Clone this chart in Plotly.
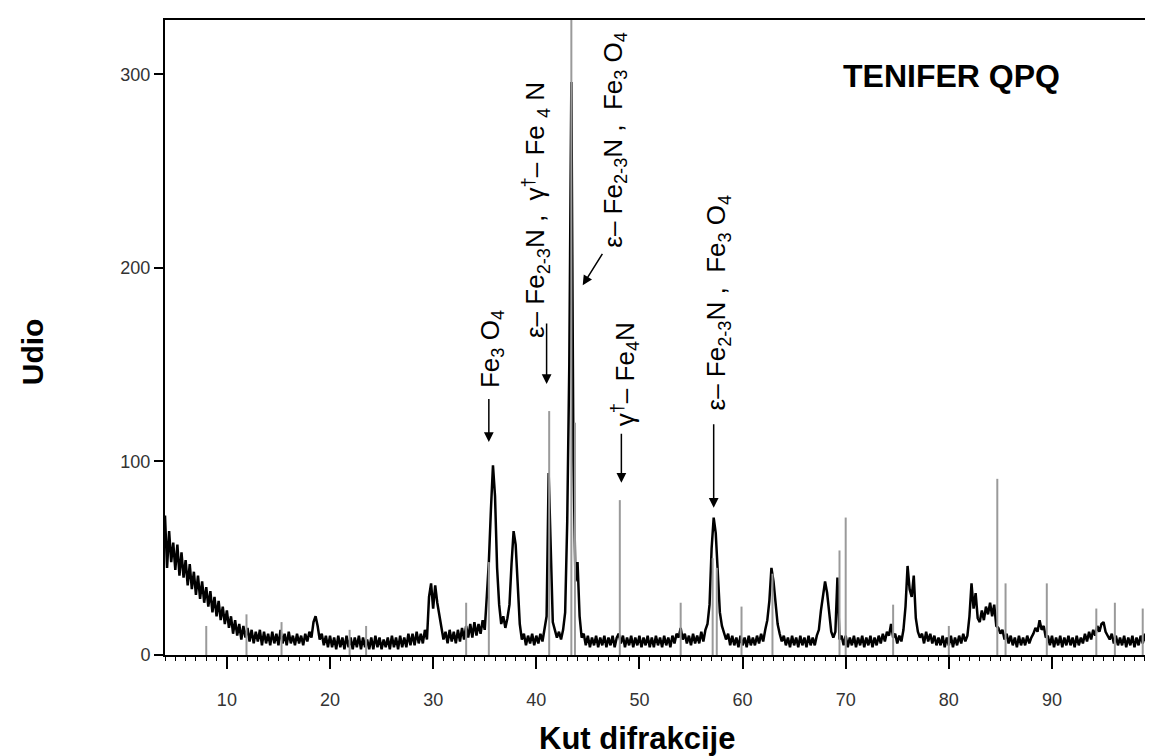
import plotly.graph_objects as go

# ---------------- data ----------------
STEP = 0.2  # degrees 2-theta between samples

# measured XRD trace, segments of the scan (start angle, values)
counts_04 = [72, 45, 64, 48, 58, 44, 57, 41, 53, 40,
             49, 36, 47, 34, 43, 31, 41, 29, 38, 27,
             35, 25, 33, 22, 30, 20, 28, 18, 25, 16]
counts_10 = [23, 14, 20, 11, 18, 10, 16, 8, 15, 9,
             14, 7, 13, 6, 12, 7, 13, 5, 12, 6,
             11, 5, 12, 6, 11, 5, 13, 6, 11, 5,
             12, 6, 10, 5, 11, 6, 10, 5, 11, 7,
             12, 9, 17, 20, 15, 8, 11, 5, 10, 4]
counts_20 = [10, 4, 9, 3, 10, 4, 9, 3, 10, 4,
             9, 3, 9, 4, 10, 3, 9, 4, 8, 3,
             9, 3, 10, 4, 9, 3, 8, 4, 9, 3,
             10, 4, 9, 3, 10, 4, 9, 4, 11, 5,
             11, 5, 12, 6, 11, 6, 13, 8, 30, 37]
counts_30 = [24, 36, 27, 21, 15, 8, 12, 6, 13, 7,
             12, 6, 13, 7, 14, 8, 15, 9, 16, 9,
             17, 10, 16, 11, 18, 13, 30, 48, 75, 98,
             82, 45, 26, 16, 20, 14, 19, 26, 47, 64,
             57, 34, 16, 8, 11, 5, 10, 6, 11, 5]
counts_40 = [10, 6, 11, 7, 13, 20, 94, 55, 17, 13,
             9, 12, 8, 13, 22, 69, 150, 296, 100, 38,
             48, 20, 9, 11, 5, 10, 4, 9, 5, 10,
             4, 9, 5, 10, 4, 9, 5, 10, 4, 9,
             11, 6, 10, 4, 9, 5, 10, 4, 9, 5]
counts_50 = [10, 4, 9, 5, 10, 4, 9, 4, 10, 5,
             9, 4, 10, 5, 9, 4, 10, 6, 11, 9,
             14, 8, 11, 6, 10, 5, 11, 6, 10, 6,
             12, 7, 13, 16, 26, 55, 71, 63, 40, 22,
             15, 12, 8, 11, 5, 10, 5, 9, 4, 10]
counts_60 = [5, 9, 4, 10, 5, 9, 5, 10, 6, 11,
             7, 13, 18, 28, 45, 38, 26, 16, 11, 7,
             10, 5, 9, 4, 10, 5, 9, 4, 10, 5,
             9, 4, 10, 5, 9, 5, 10, 13, 23, 31,
             38, 32, 20, 12, 9, 12, 40, 8, 10, 5]
counts_70 = [10, 4, 9, 5, 10, 4, 9, 5, 10, 4,
             9, 5, 10, 4, 9, 5, 10, 6, 11, 7,
             12, 10, 16, 9, 11, 6, 10, 7, 13, 25,
             46, 34, 30, 41, 19, 12, 9, 11, 6, 12,
             7, 11, 6, 10, 5, 9, 5, 10, 4, 9]
counts_80 = [5, 10, 4, 9, 5, 10, 6, 11, 7, 10,
             20, 37, 24, 32, 19, 17, 23, 18, 25, 21,
             27, 20, 26, 15, 14, 11, 13, 8, 11, 6,
             10, 5, 9, 4, 10, 5, 9, 5, 10, 6,
             9, 11, 14, 12, 18, 13, 15, 9, 10, 5]
counts_90 = [10, 4, 9, 5, 10, 4, 9, 5, 10, 5,
             9, 4, 10, 5, 9, 6, 11, 7, 12, 8,
             13, 10, 15, 12, 16, 17, 12, 10, 8, 11,
             6, 10, 5, 9, 5, 10, 4, 9, 5, 10,
             4, 9, 5, 10, 6, 11, 5, 10, 6, 9]
segments = [(4.0, counts_04), (10.0, counts_10), (20.0, counts_20), (30.0, counts_30),
            (40.0, counts_40), (50.0, counts_50), (60.0, counts_60), (70.0, counts_70),
            (80.0, counts_80), (90.0, counts_90)]

# reference pattern lines (grey sticks): position, height
stick_pos = [8.0, 11.9, 15.3, 21.9, 23.5, 33.2, 35.4, 41.25, 43.4, 43.75, 48.1, 54.0,
             57.1, 57.5, 59.9, 62.9, 69.4, 70.0, 74.6, 80.0, 84.7, 85.5, 89.5, 94.3, 96.1, 98.8]
stick_h = [15, 21, 17, 13, 15, 27, 48, 126, 340, 120, 80, 27,
           50, 45, 25, 42, 54, 71, 26, 15, 91, 37, 37, 24, 27, 24]

x_ticks = [10, 20, 30, 40, 50, 60, 70, 80, 90]
y_ticks = [0, 100, 200, 300]
X_RANGE = [4, 99.7]

# ---------------- build traces ----------------
two_theta, intensity = [], []
for start, vals in segments:
    for i, v in enumerate(vals):
        two_theta.append(round(start + STEP * i, 2))
        intensity.append(v)

sx, sy = [], []
for p, h in zip(stick_pos, stick_h):
    sx += [p, p, None]
    sy += [0, h, None]

fig = go.Figure()
fig.add_trace(go.Scatter(x=two_theta, y=intensity, mode="lines",
                         line=dict(color="black", width=2.5), hoverinfo="skip"))
fig.add_trace(go.Scatter(x=sx, y=sy, mode="lines",
                         line=dict(color="#9a9a9a", width=2), hoverinfo="skip"))
# invisible companion trace so the label axis (x2) is drawn
fig.add_trace(go.Scatter(x=two_theta[:1], y=intensity[:1], xaxis="x2", mode="markers",
                         marker=dict(opacity=0), hoverinfo="skip"))

FONT = "Liberation Sans, Arial, sans-serif"
lab_font = dict(family=FONT, size=26, color="black")
tick_font = dict(family=FONT, size=18, color="#333")

labels = [
    # text, x, y (centre of rotated text)
    ("Fe<sub>3</sub> O<sub>4</sub>", 35.6, 158),
    ("ε– Fe<sub>2-3</sub>N ,  γ<sup>†</sup>– Fe <sub>4</sub> N", 39.9, 230),
    ("ε– Fe<sub>2-3</sub>N ,  Fe<sub>3</sub> O<sub>4</sub>", 47.5, 266),
    ("γ<sup>†</sup>– Fe<sub>4</sub>N", 48.6, 145),
    ("ε– Fe<sub>2-3</sub>N ,  Fe<sub>3</sub> O<sub>4</sub>", 57.6, 182),
]
for t, x, y in labels:
    fig.add_annotation(x=x, y=y, xref="x", yref="y", text=t, textangle=-90,
                       showarrow=False, font=lab_font, xanchor="center", yanchor="middle")

arrows = [
    # head x, head y, tail x, tail y
    (35.4, 110, 35.4, 133),
    (41.0, 140, 41.0, 172),
    (44.5, 191, 46.5, 208),
    (48.25, 89, 48.25, 115),
    (57.2, 76, 57.2, 120),
]
for hx, hy, tx, ty in arrows:
    fig.add_annotation(x=hx, y=hy, ax=tx, ay=ty, xref="x", yref="y", axref="x", ayref="y",
                       text="", showarrow=True, arrowhead=2, arrowsize=1.3,
                       arrowwidth=1.5, arrowcolor="black", standoff=0)

fig.add_annotation(x=0.797, y=0.912, xref="paper", yref="paper", text="<b>TENIFER QPQ</b>",
                   xanchor="center", yanchor="middle",
                   showarrow=False, font=dict(family=FONT, size=32, color="black"))
fig.add_annotation(x=-0.134, y=0.478, xref="paper", yref="paper", text="<b>Udio</b>",
                   xanchor="center", yanchor="middle",
                   textangle=-90, showarrow=False, font=dict(family=FONT, size=30, color="black"))
fig.add_annotation(x=0.478, y=-0.131, xref="paper", yref="paper", text="<b>Kut difrakcije</b>",
                   xanchor="center", yanchor="middle",
                   showarrow=False, font=dict(family=FONT, size=31, color="black"))

fig.update_layout(
    width=1153, height=756,
    margin=dict(l=157, r=7, t=12, b=109),
    plot_bgcolor="white", paper_bgcolor="white",
    showlegend=False,
    font=tick_font,
    xaxis=dict(range=X_RANGE, tickvals=x_ticks, ticks="outside", ticklen=12, tickwidth=1.5,
               tickcolor="black", showline=True, linecolor="black", linewidth=2, mirror=True,
               showgrid=False, zeroline=False, showticklabels=False,
               minor=dict(dtick=1, tick0=0, ticks="outside", ticklen=4, tickcolor="black",
                          tickwidth=1, showgrid=False)),
    # label-only axis: long transparent ticks push the numbers down like the original
    xaxis2=dict(range=X_RANGE, overlaying="x", anchor="y", side="bottom",
                tickvals=x_ticks, ticks="outside", ticklen=28, tickcolor="rgba(0,0,0,0)",
                showline=False, showgrid=False, zeroline=False, tickfont=tick_font),
    yaxis=dict(range=[0, 328], tickvals=y_ticks, ticks="outside", ticklen=9, tickwidth=1.5,
               tickcolor="black", showline=True, linecolor="black", linewidth=2, mirror=True,
               showgrid=False, zeroline=False, tickfont=tick_font),
)

fig.write_html("out.html")
